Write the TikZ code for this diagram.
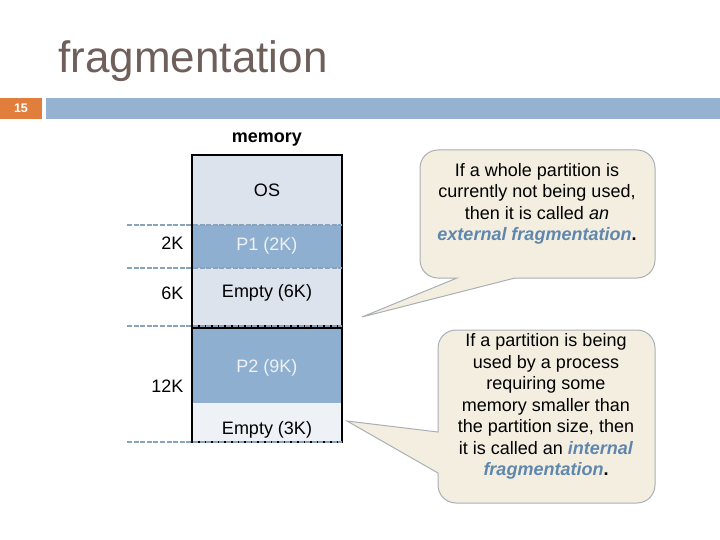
\documentclass[tikz,border=0pt]{standalone}
\usepackage{fontspec}
\setmainfont{Liberation Sans}
\usepackage{tikz}
\usetikzlibrary{positioning}
\definecolor{titlegray}{HTML}{6F5F5A}
\definecolor{barorange}{HTML}{E27E3C}
\definecolor{barblue}{HTML}{95B3D0}
\definecolor{memlight}{HTML}{DCE3EC}
\definecolor{memfaint}{HTML}{EEF1F6}
\definecolor{memdark}{HTML}{8FAFD0}
\definecolor{dashblue}{HTML}{8AA3BC}
\definecolor{notefill}{HTML}{F3EEE0}
\definecolor{noteline}{HTML}{A9B0B5}
\definecolor{emph}{HTML}{5F87AE}
\tikzstyle{part}=[font=\fontsize{18}{21}\selectfont]
\tikzstyle{parthl}=[font=\fontsize{18}{21}\selectfont, text=memfaint]
\tikzstyle{size}=[anchor=east, font=\fontsize{18}{21}\selectfont]
\tikzstyle{bound}=[draw=dashblue, line width=2.6pt, dash pattern=on 5pt off 1.6pt]
\tikzstyle{note}=[fill=notefill, draw=noteline, line width=1pt]
\tikzstyle{notetext}=[align=center, font=\fontsize{18}{21.5}\selectfont]
\newcommand{\hl}[1]{\textcolor{emph}{\textbf{\textit{#1}}}}

\begin{document}
\begin{tikzpicture}[x=1pt,y=-1pt]
\useasboundingbox (0,0) rectangle (720,540);
% header
\node[anchor=base west, text=titlegray, font=\fontsize{44}{48}\selectfont]
  (title) at (55,73) {fragmentation};
\fill[barorange] (0,98) rectangle (42,119);
\fill[barblue] (46,98) rectangle (720,119);
\node[text=white, font=\fontsize{12.5}{14}\selectfont\bfseries] (page) at (21,108.5) {15};
% memory column
\fill[memlight] (192,155) rectangle (342,225);
\fill[memdark] (192,225) rectangle (342,268);
\fill[memlight] (192,268) rectangle (342,326);
\fill[memdark] (192,328) rectangle (342,403);
\fill[memfaint] (192,403) rectangle (342,442);
\draw[line width=1.2pt] (192,155) rectangle (342,326);
\draw[line width=1.2pt] (192,328) rectangle (342,442);
\foreach \y in {225,268,326,442}
\draw[bound] (127,\y) -- (342,\y);
\node[font=\fontsize{18}{21}\selectfont\bfseries] (memory) at (267,140) {memory};
\node[part] (os) at (267,190) {OS};
\node[parthl] (pone) at (267,246) {P1 (2K)};
\node[part] (emptysix) at (267,293) {Empty (6K)};
\node[parthl] (ptwo) at (267,368) {P2 (9K)};
\node[part] (emptythree) at (267,430) {Empty (3K)};
\node[size] (ktwo) at (187,243) {2K};
\node[size] (ksix) at (187,293) {6K};
\node[size] (ktwelve) at (187,386) {12K};
% callouts
\filldraw[note] (457,278) -- (362,317) -- (515,278) [rounded corners=18pt]
  -- (655,278) -- (655,150) -- (420,150) -- (420,278) [sharp corners] -- cycle;
\node[notetext] (external) at (537,204) {If a whole partition is\\
  currently not being used,\\ then it is called \textit{an}\\
  \hl{external fragmentation}\textbf{.}};
\filldraw[note] (438,432) -- (347,421) -- (438,473) [rounded corners=18pt]
  -- (438,503) -- (655,503) -- (655,330) -- (438,330) [sharp corners] -- cycle;
\node[notetext] (internal) at (546,406.5) {If a partition is being\\
  used by a process\\ requiring some\\ memory smaller than\\
  the partition size, then\\ it is called an \hl{internal}\\
  \hl{fragmentation}\textbf{.}};
\end{tikzpicture}
\end{document}
